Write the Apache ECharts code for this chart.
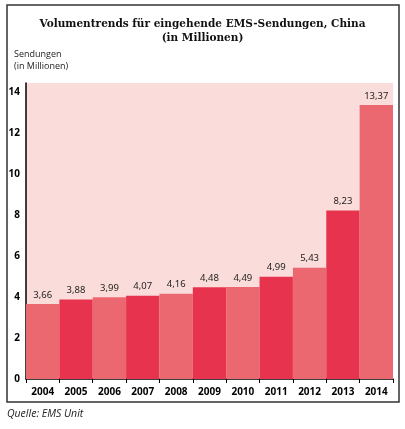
<!DOCTYPE html>
<html><head><meta charset="utf-8">
<script src="https://cdn.jsdelivr.net/npm/echarts@6/dist/echarts.min.js"></script>
<style>html,body{margin:0;padding:0;background:#fff}#c{width:405px;height:429px}</style>
</head><body><div id="c"></div>
<script>
const years = ['2004','2005','2006','2007','2008','2009','2010','2011','2012','2013','2014'];
const volumes = [3.66,3.88,3.99,4.07,4.16,4.48,4.49,4.99,5.43,8.23,13.37];
const barColors = ['#EC6870','#E8334F'];
const yTicks = [0,2,4,6,8,10,12,14];

const chart = echarts.init(document.getElementById('c'), null, {renderer:'canvas'});
chart.setOption({
  animation:false,
  backgroundColor:'#fff',
  title:{
    text:'Volumentrends für eingehende EMS-Sendungen, China\n(in Millionen)',
    left:'center', top:12,
    textStyle:{fontFamily:'DejaVu Serif', fontWeight:'bold', fontSize:10.5, color:'#111', lineHeight:14}
  },
  graphic:[
    {type:'rect', shape:{x:7,y:5,width:392,height:397}, style:{fill:'none', stroke:'#333', lineWidth:1.5}, silent:true, z:-1},
    {type:'text', left:14, top:48, style:{text:'Sendungen\n(in Millionen)', font:'9px "Open Sans"', fill:'#222', lineHeight:12}},
    {type:'text', left:7, top:409, style:{text:'Quelle: EMS Unit', font:'italic 10.5px "Open Sans"', fill:'#222'}}
  ],
  grid:{left:26, right:12, top:83, bottom:50, show:true, backgroundColor:'#FADDDA', borderWidth:0},
  xAxis:{
    type:'category', data:years,
    axisLine:{lineStyle:{color:'#000', width:1.5}},
    axisTick:{show:true, alignWithLabel:false, length:4, lineStyle:{color:'#000'}},
    axisLabel:{fontFamily:'Noto Sans', fontWeight:'bold', fontSize:10, color:'#000', margin:8}
  },
  yAxis:{
    type:'value', min:0, max:14.45, interval:2,
    splitLine:{show:false},
    axisLine:{show:true, lineStyle:{color:'#000', width:1.5}},
    axisTick:{show:false},
    axisLabel:{showMaxLabel:false, fontFamily:'Noto Sans', fontWeight:'bold', fontSize:10, color:'#000', margin:6,
      formatter:v => yTicks.includes(v) ? String(v) : ''}
  },
  series:[{
    type:'bar',
    data:volumes.map((v,i)=>({value:v, itemStyle:{color:barColors[i%2]}})),
    barCategoryGap:'0%',
    label:{show:true, position:'top', distance:4, fontFamily:'Noto Sans', fontSize:9.5, color:'#222',
      formatter:p => p.value.toFixed(2).replace('.',',')}
  }]
});
</script>
</body></html>
